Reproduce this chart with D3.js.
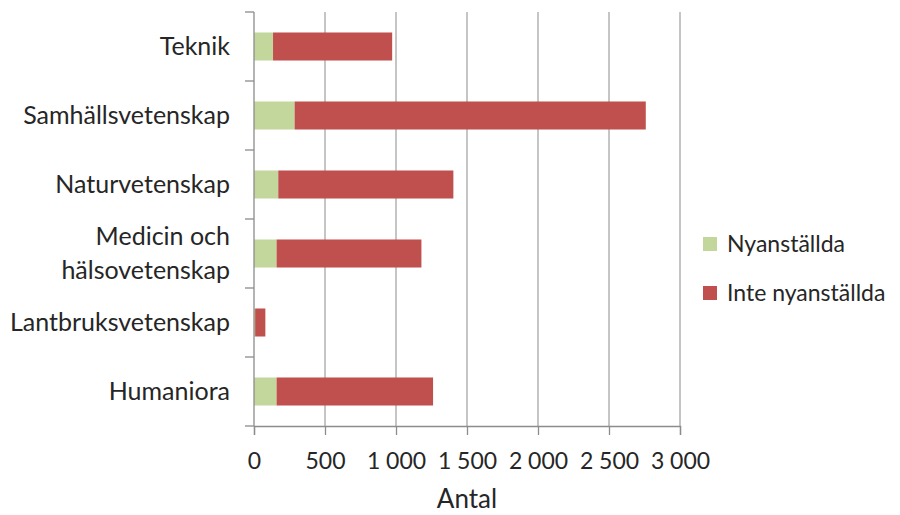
<!DOCTYPE html>
<html>
<head>
<meta charset="utf-8">
<script src="https://cdn.jsdelivr.net/npm/d3@7"></script>
<style>
  body { margin: 0; background: #fff; }
  svg text { font-family: Lato, "Open Sans", sans-serif; fill: #262626; }
</style>
</head>
<body>
<svg id="chart" width="900" height="515"></svg>
<script>
// data
var categories = ["Teknik", "Samhällsvetenskap", "Naturvetenskap", "Medicin och hälsovetenskap", "Lantbruksvetenskap", "Humaniora"];
var nyanstallda = [134, 286, 171, 159, 8, 159];
var inteNyanstallda = [839, 2473, 1233, 1020, 72, 1102];
var seriesNames = ["Nyanställda", "Inte nyanställda"];
var xTicks = [0, 500, 1000, 1500, 2000, 2500, 3000];
var xLabel = "Antal";

var colors = ["#c3d69b", "#c0504d"];
var plotLeft = 254, plotRight = 680, plotTop = 12, plotBottom = 426;

var svg = d3.select("#chart");
var fmt = d3.formatLocale({ decimal: ",", thousands: " ", grouping: [3], currency: ["", ""] }).format(",d");

var x = d3.scaleLinear().domain([0, 3000]).range([plotLeft, plotRight]);
var y = d3.scaleBand().domain(categories).range([plotTop, plotBottom]).paddingInner(0.594).paddingOuter(0.297);

// gridlines
svg.append("g").attr("class", "grid")
  .selectAll("line")
  .data(xTicks.slice(1))
  .enter().append("line")
  .attr("x1", d => x(d)).attr("x2", d => x(d))
  .attr("y1", plotTop).attr("y2", plotBottom)
  .style("stroke", "#a6a6a6").style("stroke-width", 1.3);

// stacked bars
var rows = categories.map((c, i) => ({ cat: c, a: nyanstallda[i], b: inteNyanstallda[i] }));
var stack = d3.stack().keys(["a", "b"])(rows);

svg.append("g").selectAll("g")
  .data(stack)
  .enter().append("g")
  .style("fill", (d, i) => colors[i])
  .selectAll("rect")
  .data(d => d)
  .enter().append("rect")
  .attr("x", d => x(d[0]))
  .attr("width", d => x(d[1]) - x(d[0]))
  .attr("y", d => y(d.data.cat))
  .attr("height", y.bandwidth());

// x axis
var xAxis = d3.axisBottom(x).tickValues(xTicks).tickSize(9).tickFormat(fmt);
var gx = svg.append("g")
  .attr("transform", "translate(0," + plotBottom + ")")
  .call(xAxis);
gx.select(".domain").style("stroke", "#8c8c8c").style("stroke-width", 1.3);
gx.selectAll(".tick line").style("stroke", "#8c8c8c").style("stroke-width", 1.3);
gx.selectAll(".tick text").style("font-size", "23px").attr("dy", "0.71em").attr("y", 27);

svg.append("text")
  .attr("x", (plotLeft + plotRight) / 2)
  .attr("y", 508)
  .style("text-anchor", "middle")
  .style("font-size", "26px")
  .text(xLabel);

// y axis: line, boundary ticks and labels
var ya = svg.append("g").attr("class", "y axis");
ya.append("line")
  .attr("x1", plotLeft).attr("x2", plotLeft)
  .attr("y1", plotTop).attr("y2", plotBottom)
  .style("stroke", "#8c8c8c").style("stroke-width", 1.3);

var bounds = categories.map(c => y(c) - y.step() * y.paddingInner() / 2);
bounds.push(plotBottom);
ya.selectAll(".tick")
  .data(bounds)
  .enter().append("line")
  .attr("x1", plotLeft - 9).attr("x2", plotLeft)
  .attr("y1", d => d).attr("y2", d => d)
  .style("stroke", "#8c8c8c").style("stroke-width", 1.3);

var labels = ya.selectAll(".label")
  .data(categories)
  .enter().append("text")
  .attr("class", "label")
  .attr("x", plotLeft - 24)
  .attr("y", d => y(d) + y.bandwidth() / 2)
  .style("text-anchor", "end")
  .style("font-size", "25px");

// wrap "Medicin och hälsovetenskap" onto two lines like the original
labels.each(function(d) {
  var parts = d.split(" och ");
  var lines = parts.length > 1 ? [parts[0] + " och", parts[1]] : [d];
  var t = d3.select(this);
  lines.forEach((l, i) => {
    t.append("tspan")
      .attr("x", plotLeft - 24)
      .attr("dy", i === 0 ? (0.35 - (lines.length - 1) * 0.68) + "em" : "1.36em")
      .text(l);
  });
});

// legend
var legend = svg.append("g").selectAll("g")
  .data(seriesNames)
  .enter().append("g")
  .attr("transform", (d, i) => "translate(703," + (244 + i * 49) + ")");

legend.append("rect")
  .attr("x", 0).attr("y", -7)
  .attr("width", 14).attr("height", 14)
  .style("fill", (d, i) => colors[i]);

legend.append("text")
  .attr("x", 24)
  .attr("y", 0)
  .attr("dy", "0.35em")
  .style("font-size", "23px")
  .text(d => d);
</script>
</body>
</html>
